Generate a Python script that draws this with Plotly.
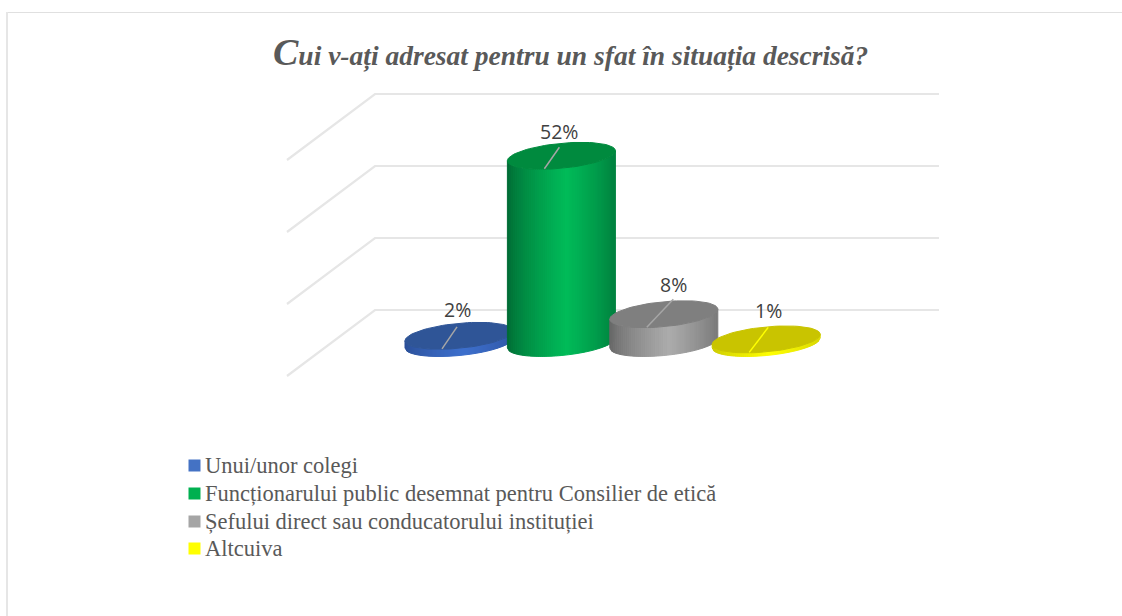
import math
import plotly.graph_objects as go

categories = ["Unui/unor colegi",
              "Funcționarului public desemnat pentru Consilier de etică",
              "Șefului direct sau conducatorului instituției",
              "Altcuiva"]
values = [2, 52, 8, 1]
grid_values = [0, 20, 40, 60]
title_first = "C"
title_rest = "ui v-ați adresat pentru un sfat în situația descrisă?"

W, H = 1122, 616
PX_X = 102.4      # pixels per category step
PX_Y = 3.6        # pixels per percent
X0, Y0 = 459, 343 # pixel of category 0 at value 0
xr = [(0 - X0) / PX_X, (W - X0) / PX_X]
yr = [(Y0 - H) / PX_Y, Y0 / PX_Y]
dx = lambda p: p / PX_X
dy = lambda p: p / PX_Y

top_col = ["#2f5597", "#008a3e", "#7f7f7f", "#c9c400"]
edge_col = [(42, 78, 150), (0, 105, 52), (100, 100, 100), (200, 198, 0)]
mid_col = [(62, 112, 205), (0, 188, 90), (172, 172, 172), (255, 255, 0)]
swatch_col = ["#4472c4", "#00b050", "#a5a5a5", "#ffff00"]
leader_col = ["#a6a6a6", "#a6a6a6", "#a6a6a6", "#ffff00"]
label_off = [(-2, -26), (-2, -24.5), (9.5, -30), (2, -28.5)]
leader_start = [(-2, -9), (-2, -8.5), (9.5, -15), (2, -12)]
leader_end = (-17, 13)

A, B, S = 54, 12.5, 5  # ellipse half-width, half-height, tilt (pixels)
STRIPS = 54
fig = go.Figure()


def add_poly(xs, ys, color):
    fig.add_trace(go.Scatter(x=xs, y=ys, mode="lines", fill="toself", fillcolor=color,
                             line=dict(color=color, width=1), hoverinfo="skip", showlegend=False))


# walls and floor
for g in grid_values:
    yb = g + dy(33)
    fig.add_trace(go.Scatter(x=[dx(287 - X0), dx(375 - X0), dx(939 - X0)],
                             y=[yb - dy(66), yb, yb], mode="lines",
                             line=dict(color="#e6e6e6", width=2.2),
                             hoverinfo="skip", showlegend=False))


def lower(u):
    return B * math.sqrt(max(0, 1 - u * u)) - S * u


def shade(i, u):
    t = max(0.0, 1 - abs(u - 0.1) / 1.1) ** 0.7
    c = [edge_col[i][k] + (mid_col[i][k] - edge_col[i][k]) * t for k in range(3)]
    return "rgb(%d,%d,%d)" % tuple(c)


for i, v in enumerate(values):
    for j in range(STRIPS):
        u0 = -1 + 2 * j / STRIPS
        u1 = -1 + 2 * (j + 1) / STRIPS
        xs = [i + dx(A * u0), i + dx(A * u1), i + dx(A * u1), i + dx(A * u0), i + dx(A * u0)]
        ys = [v - dy(lower(u0)), v - dy(lower(u1)), -dy(lower(u1)), -dy(lower(u0)), v - dy(lower(u0))]
        add_poly(xs, ys, shade(i, (u0 + u1) / 2))
    th = [2 * math.pi * k / 80 for k in range(81)]
    add_poly([i + dx(A * math.cos(t)) for t in th],
             [v - dy(B * math.sin(t) - S * math.cos(t)) for t in th], top_col[i])
    sx, sy = leader_start[i]
    fig.add_trace(go.Scatter(x=[i + dx(sx), i + dx(leader_end[0])],
                             y=[v - dy(sy), v - dy(leader_end[1])], mode="lines",
                             line=dict(color=leader_col[i], width=1.5),
                             hoverinfo="skip", showlegend=False))

annotations = []
for i, v in enumerate(values):
    ox, oy = label_off[i]
    annotations.append(dict(x=i + dx(ox), y=v - dy(oy), xref="x", yref="y", text=f"{v}%",
                            showarrow=False, xanchor="center", yanchor="middle",
                            font=dict(family="Open Sans", size=19.5, color="#404040")))

shapes = [
    dict(type="line", xref="paper", yref="paper", x0=7 / W, x1=1, y0=1 - 12.5 / H, y1=1 - 12.5 / H,
         line=dict(color="#e0e0e0", width=1)),
    dict(type="line", xref="paper", yref="paper", x0=7 / W, x1=7 / W, y0=1 - 12 / H, y1=0,
         line=dict(color="#e6e6e6", width=2)),
]
legend_y = [465.5, 493.5, 521.5, 548.5]
for name, col, ly in zip(categories, swatch_col, legend_y):
    shapes.append(dict(type="rect", xref="paper", yref="paper", x0=188.5 / W, x1=200.5 / W,
                       y0=1 - (ly + 6) / H, y1=1 - (ly - 6) / H, fillcolor=col, line=dict(width=0)))
    annotations.append(dict(x=203 / W, y=1 - ly / H, xref="paper", yref="paper", text=name,
                            showarrow=False, xanchor="left", yanchor="middle",
                            font=dict(family="Liberation Serif", size=22.5, color="#595959")))

annotations.append(dict(x=570 / W, y=1 - 52.5 / H, xref="paper", yref="paper", showarrow=False,
                        xanchor="center", yanchor="middle",
                        text=f"<b><span style='font-size:38px'>{title_first}</span>{title_rest}</b>",
                        font=dict(family="Liberation Serif", size=27.5, color="#595959",
                                  style="italic")))

fig.update_layout(width=W, height=H, margin=dict(l=0, r=0, t=0, b=0),
                  paper_bgcolor="white", plot_bgcolor="white", showlegend=False,
                  xaxis=dict(range=xr, visible=False, fixedrange=True),
                  yaxis=dict(range=yr, visible=False, fixedrange=True),
                  shapes=shapes, annotations=annotations)
fig.write_html("out.html", config={"displayModeBar": False},
               post_script="document.body.style.margin='0';document.documentElement.style.overflow='hidden';")
